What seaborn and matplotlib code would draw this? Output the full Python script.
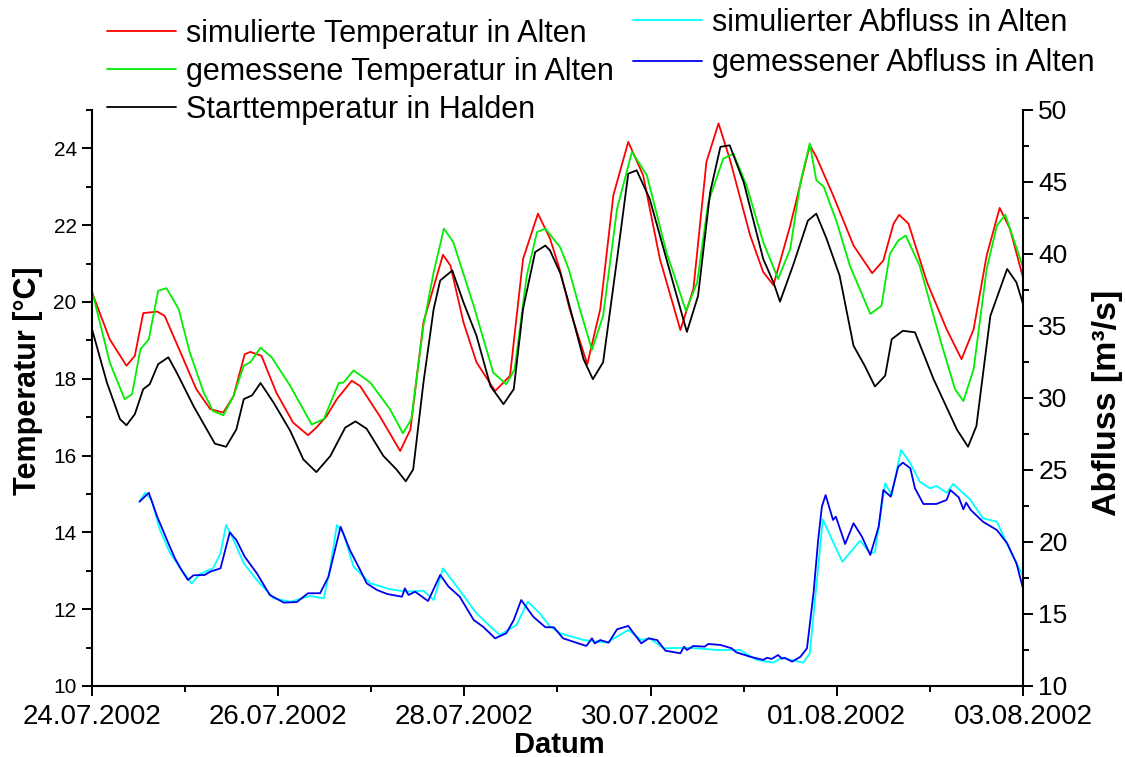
import pandas as pd
import seaborn as sns
import matplotlib.pyplot as plt
import matplotlib.dates as mdates
from matplotlib.ticker import MultipleLocator, FixedLocator

temp_sim = [(0.00, 20.25), (0.19, 19.03), (0.37, 18.34), (0.46, 18.60), (0.55, 19.71), (0.70, 19.75),
            (0.78, 19.64), (0.95, 18.69), (1.12, 17.73), (1.27, 17.21), (1.41, 17.12), (1.52, 17.55),
            (1.64, 18.64), (1.70, 18.70), (1.82, 18.60), (1.98, 17.64), (2.16, 16.86), (2.32, 16.53),
            (2.41, 16.73), (2.52, 17.03), (2.63, 17.47), (2.79, 17.95), (2.88, 17.81), (3.09, 17.03),
            (3.31, 16.12), (3.42, 16.68), (3.56, 19.47), (3.77, 21.23), (3.85, 20.95), (3.99, 19.47),
            (4.13, 18.43), (4.33, 17.68), (4.49, 18.08), (4.63, 21.12), (4.79, 22.30), (4.92, 21.65),
            (5.03, 20.80), (5.13, 19.82), (5.32, 18.38), (5.46, 19.82), (5.60, 22.78), (5.76, 24.17),
            (5.92, 23.30), (6.10, 21.12), (6.32, 19.27), (6.46, 20.34), (6.60, 23.65), (6.73, 24.65),
            (6.85, 23.73), (7.07, 21.73), (7.21, 20.78), (7.32, 20.44), (7.50, 21.99), (7.71, 24.08),
            (7.78, 23.78), (7.96, 22.78), (8.18, 21.47), (8.38, 20.75), (8.50, 21.08), (8.61, 22.04),
            (8.67, 22.27), (8.77, 22.04), (8.97, 20.51), (9.18, 19.29), (9.34, 18.51), (9.47, 19.29),
            (9.61, 21.21), (9.75, 22.45), (9.86, 21.91), (10.00, 20.64)]

temp_gem = [(0.00, 20.29), (0.19, 18.43), (0.35, 17.47), (0.43, 17.60), (0.52, 18.77), (0.61, 19.03),
            (0.71, 20.29), (0.80, 20.36), (0.93, 19.82), (1.05, 18.69), (1.20, 17.64), (1.30, 17.16),
            (1.41, 17.05), (1.52, 17.55), (1.63, 18.34), (1.70, 18.43), (1.81, 18.81), (1.93, 18.56),
            (2.13, 17.81), (2.36, 16.81), (2.49, 16.95), (2.65, 17.89), (2.70, 17.90), (2.81, 18.22),
            (2.99, 17.90), (3.20, 17.21), (3.34, 16.58), (3.43, 16.95), (3.56, 19.38), (3.67, 20.78),
            (3.78, 21.91), (3.88, 21.56), (4.10, 19.90), (4.31, 18.16), (4.45, 17.86), (4.54, 18.25),
            (4.67, 20.69), (4.78, 21.82), (4.87, 21.91), (5.03, 21.42), (5.12, 20.86), (5.24, 19.82),
            (5.37, 18.75), (5.49, 19.64), (5.64, 22.43), (5.80, 23.91), (5.96, 23.30), (6.17, 21.30),
            (6.38, 19.77), (6.50, 20.51), (6.62, 22.60), (6.78, 23.73), (6.89, 23.86), (7.03, 23.04),
            (7.21, 21.56), (7.37, 20.60), (7.50, 21.38), (7.61, 23.12), (7.71, 24.13), (7.78, 23.17),
            (7.86, 23.00), (8.00, 22.08), (8.14, 20.95), (8.36, 19.69), (8.48, 19.90), (8.57, 21.25),
            (8.66, 21.60), (8.74, 21.73), (8.89, 20.95), (9.11, 19.03), (9.27, 17.73), (9.36, 17.42),
            (9.47, 18.25), (9.61, 20.86), (9.72, 21.99), (9.81, 22.27), (10.00, 20.91)]

temp_start = [(0.00, 19.29), (0.16, 17.90), (0.30, 16.95), (0.37, 16.79), (0.46, 17.08), (0.55, 17.73),
              (0.62, 17.86), (0.71, 18.38), (0.82, 18.56), (0.91, 18.16), (1.09, 17.29), (1.32, 16.31),
              (1.44, 16.23), (1.55, 16.68), (1.63, 17.47), (1.72, 17.57), (1.81, 17.89), (1.95, 17.38),
              (2.13, 16.64), (2.27, 15.90), (2.41, 15.57), (2.56, 15.99), (2.72, 16.73), (2.83, 16.89),
              (2.95, 16.70), (3.13, 15.99), (3.27, 15.64), (3.37, 15.33), (3.45, 15.64), (3.56, 17.90),
              (3.67, 19.82), (3.74, 20.56), (3.87, 20.82), (3.99, 19.99), (4.13, 19.12), (4.28, 17.81),
              (4.42, 17.34), (4.53, 17.73), (4.63, 19.82), (4.76, 21.30), (4.87, 21.47), (4.92, 21.34),
              (5.03, 20.75), (5.10, 20.16), (5.28, 18.51), (5.38, 17.99), (5.49, 18.43), (5.64, 21.12),
              (5.76, 23.34), (5.85, 23.43), (5.99, 22.69), (6.17, 21.12), (6.39, 19.22), (6.51, 20.16),
              (6.64, 22.86), (6.75, 24.04), (6.85, 24.08), (7.00, 23.12), (7.21, 21.12), (7.32, 20.51),
              (7.39, 20.01), (7.53, 20.95), (7.69, 22.12), (7.78, 22.30), (7.89, 21.65), (8.03, 20.69),
              (8.18, 18.86), (8.30, 18.34), (8.41, 17.80), (8.52, 18.08), (8.59, 19.03), (8.71, 19.25),
              (8.84, 19.21), (9.04, 17.99), (9.29, 16.68), (9.41, 16.23), (9.50, 16.77), (9.65, 19.64),
              (9.83, 20.86), (9.93, 20.51), (10.00, 19.95)]

abfluss_sim = [(0.51, 22.80), (0.57, 23.42), (0.64, 22.92), (0.73, 20.83), (0.84, 19.21), (0.95, 18.17),
               (1.07, 17.13), (1.16, 17.78), (1.30, 18.17), (1.38, 19.21), (1.44, 21.18), (1.52, 20.14),
               (1.63, 18.52), (1.77, 17.36), (1.95, 16.09), (2.13, 15.85), (2.34, 16.25), (2.49, 16.09),
               (2.56, 18.28), (2.63, 21.18), (2.70, 20.60), (2.81, 18.28), (2.99, 17.13), (3.20, 16.72),
               (3.38, 16.55), (3.56, 16.62), (3.67, 15.97), (3.77, 18.17), (3.92, 16.90), (4.13, 15.05),
               (4.28, 14.12), (4.38, 13.54), (4.56, 14.24), (4.68, 15.85), (4.81, 15.05), (4.92, 14.12),
               (5.03, 13.66), (5.28, 13.19), (5.53, 13.01), (5.76, 13.89), (5.90, 13.19), (5.99, 13.31),
               (6.14, 12.62), (6.41, 12.66), (6.71, 12.50), (6.96, 12.50), (7.14, 11.81), (7.32, 11.62),
               (7.41, 11.96), (7.64, 11.62), (7.71, 12.27), (7.78, 16.90), (7.85, 21.57), (7.95, 20.14),
               (8.06, 18.63), (8.25, 20.09), (8.36, 19.21), (8.41, 19.30), (8.52, 24.08), (8.59, 23.26),
               (8.69, 26.39), (8.79, 25.47), (8.89, 24.19), (9.00, 23.73), (9.07, 23.89), (9.18, 23.42),
               (9.25, 24.03), (9.43, 22.97), (9.57, 21.65), (9.72, 21.41), (9.86, 19.44), (10.00, 17.64)]

abfluss_gem = [(0.51, 22.80), (0.61, 23.42), (0.70, 21.76), (0.82, 19.91), (0.89, 18.87), (0.96, 18.06),
               (1.03, 17.36), (1.09, 17.69), (1.21, 17.71), (1.27, 17.94), (1.38, 18.17), (1.48, 20.67),
               (1.55, 20.14), (1.64, 18.98), (1.77, 17.83), (1.91, 16.32), (2.06, 15.79), (2.20, 15.83),
               (2.32, 16.44), (2.45, 16.44), (2.54, 17.59), (2.67, 21.06), (2.77, 19.44), (2.88, 18.06),
               (2.95, 17.13), (3.06, 16.67), (3.17, 16.39), (3.33, 16.20), (3.36, 16.78), (3.40, 16.32),
               (3.47, 16.55), (3.61, 15.90), (3.74, 17.71), (3.83, 16.90), (3.95, 16.20), (4.10, 14.58),
               (4.20, 14.12), (4.33, 13.31), (4.45, 13.66), (4.53, 14.58), (4.61, 15.97), (4.74, 14.81),
               (4.87, 14.08), (4.96, 14.08), (5.06, 13.31), (5.31, 12.78), (5.37, 13.31), (5.40, 12.96),
               (5.46, 13.19), (5.55, 13.01), (5.64, 13.94), (5.76, 14.17), (5.90, 12.96), (5.98, 13.31),
               (6.07, 13.19), (6.16, 12.45), (6.32, 12.27), (6.36, 12.73), (6.39, 12.50), (6.46, 12.78),
               (6.58, 12.73), (6.62, 12.92), (6.75, 12.85), (6.87, 12.62), (6.92, 12.34), (7.07, 12.03),
               (7.21, 11.81), (7.25, 11.96), (7.30, 11.88), (7.37, 12.15), (7.41, 11.90), (7.44, 11.96),
               (7.52, 11.69), (7.61, 12.03), (7.68, 12.62), (7.75, 16.44), (7.80, 20.14), (7.84, 22.45),
               (7.88, 23.26), (7.96, 21.53), (7.99, 21.76), (8.09, 19.86), (8.18, 21.30), (8.27, 20.37),
               (8.36, 19.10), (8.45, 21.06), (8.50, 23.61), (8.58, 23.15), (8.66, 25.23), (8.71, 25.51),
               (8.79, 25.12), (8.84, 23.73), (8.93, 22.64), (9.07, 22.64), (9.18, 22.92), (9.22, 23.61),
               (9.31, 23.10), (9.36, 22.27), (9.39, 22.73), (9.44, 22.22), (9.57, 21.41), (9.72, 20.83),
               (9.83, 19.91), (9.93, 18.52), (10.00, 16.78)]

start = pd.Timestamp('2002-07-24')
ende = pd.Timestamp('2002-08-03')


def als_df(paare):
    df = pd.DataFrame(paare, columns=['Tag', 'Wert'])
    df['Datum'] = start + pd.to_timedelta(df['Tag'], unit='D')
    return df


sns.set_style("ticks")
plt.rcParams['font.family'] = ['Liberation Sans', 'DejaVu Sans']
plt.rcParams['text.color'] = 'black'
plt.rcParams['axes.labelcolor'] = 'black'
plt.rcParams['xtick.color'] = 'black'
plt.rcParams['ytick.color'] = 'black'

fig = plt.figure(figsize=(11.25, 7.57), dpi=100)
ax = fig.add_axes([0.0818, 0.0938, 0.8275, 0.7609])
ax2 = ax.twinx()

lw = 1.3
sns.lineplot(data=als_df(temp_sim), x='Datum', y='Wert', color='#ff0000', lw=lw, ax=ax,
             label='simulierte Temperatur in Alten')
sns.lineplot(data=als_df(temp_gem), x='Datum', y='Wert', color='#00ee00', lw=lw, ax=ax,
             label='gemessene Temperatur in Alten')
sns.lineplot(data=als_df(temp_start), x='Datum', y='Wert', color='black', lw=lw, ax=ax,
             label='Starttemperatur in Halden')
sns.lineplot(data=als_df(abfluss_sim), x='Datum', y='Wert', color='#00ffff', lw=lw, ax=ax2,
             label='simulierter Abfluss in Alten')
sns.lineplot(data=als_df(abfluss_gem), x='Datum', y='Wert', color='#0000ee', lw=lw, ax=ax2,
             label='gemessener Abfluss in Alten')

h1, l1 = ax.get_legend_handles_labels()
h2, l2 = ax2.get_legend_handles_labels()
for a in (ax, ax2):
    if a.get_legend() is not None:
        a.get_legend().remove()

# Achsen
ax.set_xlim(start, ende)
ax.set_ylim(10, 25)
ax2.set_ylim(10, 50)

ax.xaxis.set_major_locator(FixedLocator(mdates.date2num(pd.date_range(start, ende, freq='2D'))))
ax.xaxis.set_minor_locator(FixedLocator(mdates.date2num(pd.date_range(start, ende, freq='D'))))
ax.xaxis.set_major_formatter(mdates.DateFormatter('%d.%m.%Y'))
ax.yaxis.set_major_locator(MultipleLocator(2))
ax.yaxis.set_minor_locator(MultipleLocator(1))
ax2.yaxis.set_major_locator(MultipleLocator(5))
ax2.yaxis.set_minor_locator(MultipleLocator(2.5))

for a in (ax, ax2):
    a.tick_params(which='major', direction='out', length=7, width=1.4, color='black', labelcolor='black')
    a.tick_params(which='minor', direction='out', length=4, width=1.4, color='black')
    for s in a.spines.values():
        s.set_linewidth(1.5)
        s.set_color('black')
    a.spines['top'].set_visible(False)
ax.spines['right'].set_visible(False)
ax2.spines['left'].set_visible(False)
ax2.spines['bottom'].set_visible(False)

ax.tick_params(axis='x', labelsize=20, pad=6)
ax.tick_params(axis='y', labelsize=15, pad=4)
ax2.tick_params(axis='y', labelsize=19, pad=4)

ax.set_xlabel('Datum', fontsize=21, fontweight='bold', va='center', color='black')
ax.xaxis.set_label_coords(0.5016, -0.1024)
ax.set_ylabel('Temperatur [°C]', fontsize=22, fontweight='bold', va='center', ha='center',
              color='black')
ax.yaxis.set_label_coords(-0.0687, 0.53)
ax2.set_ylabel('Abfluss [m³/s]', fontsize=24.5, fontweight='bold', va='center', ha='center',
               rotation=90, color='black')
ax2.yaxis.set_label_coords(1.0913, 0.491)

leg_kw = dict(loc='upper left', frameon=False, borderpad=0, borderaxespad=0, fontsize=22,
              handlelength=2.25, handletextpad=0.32, labelcolor='black')
fig.legend(h1, l1, bbox_to_anchor=(107 / 1125, 1 - 19 / 757), labelspacing=0.26, **leg_kw)
fig.legend(h2, l2, bbox_to_anchor=(633 / 1125, 1 - 8 / 757), labelspacing=0.34, **leg_kw)

fig.savefig('out.png', dpi=100)
